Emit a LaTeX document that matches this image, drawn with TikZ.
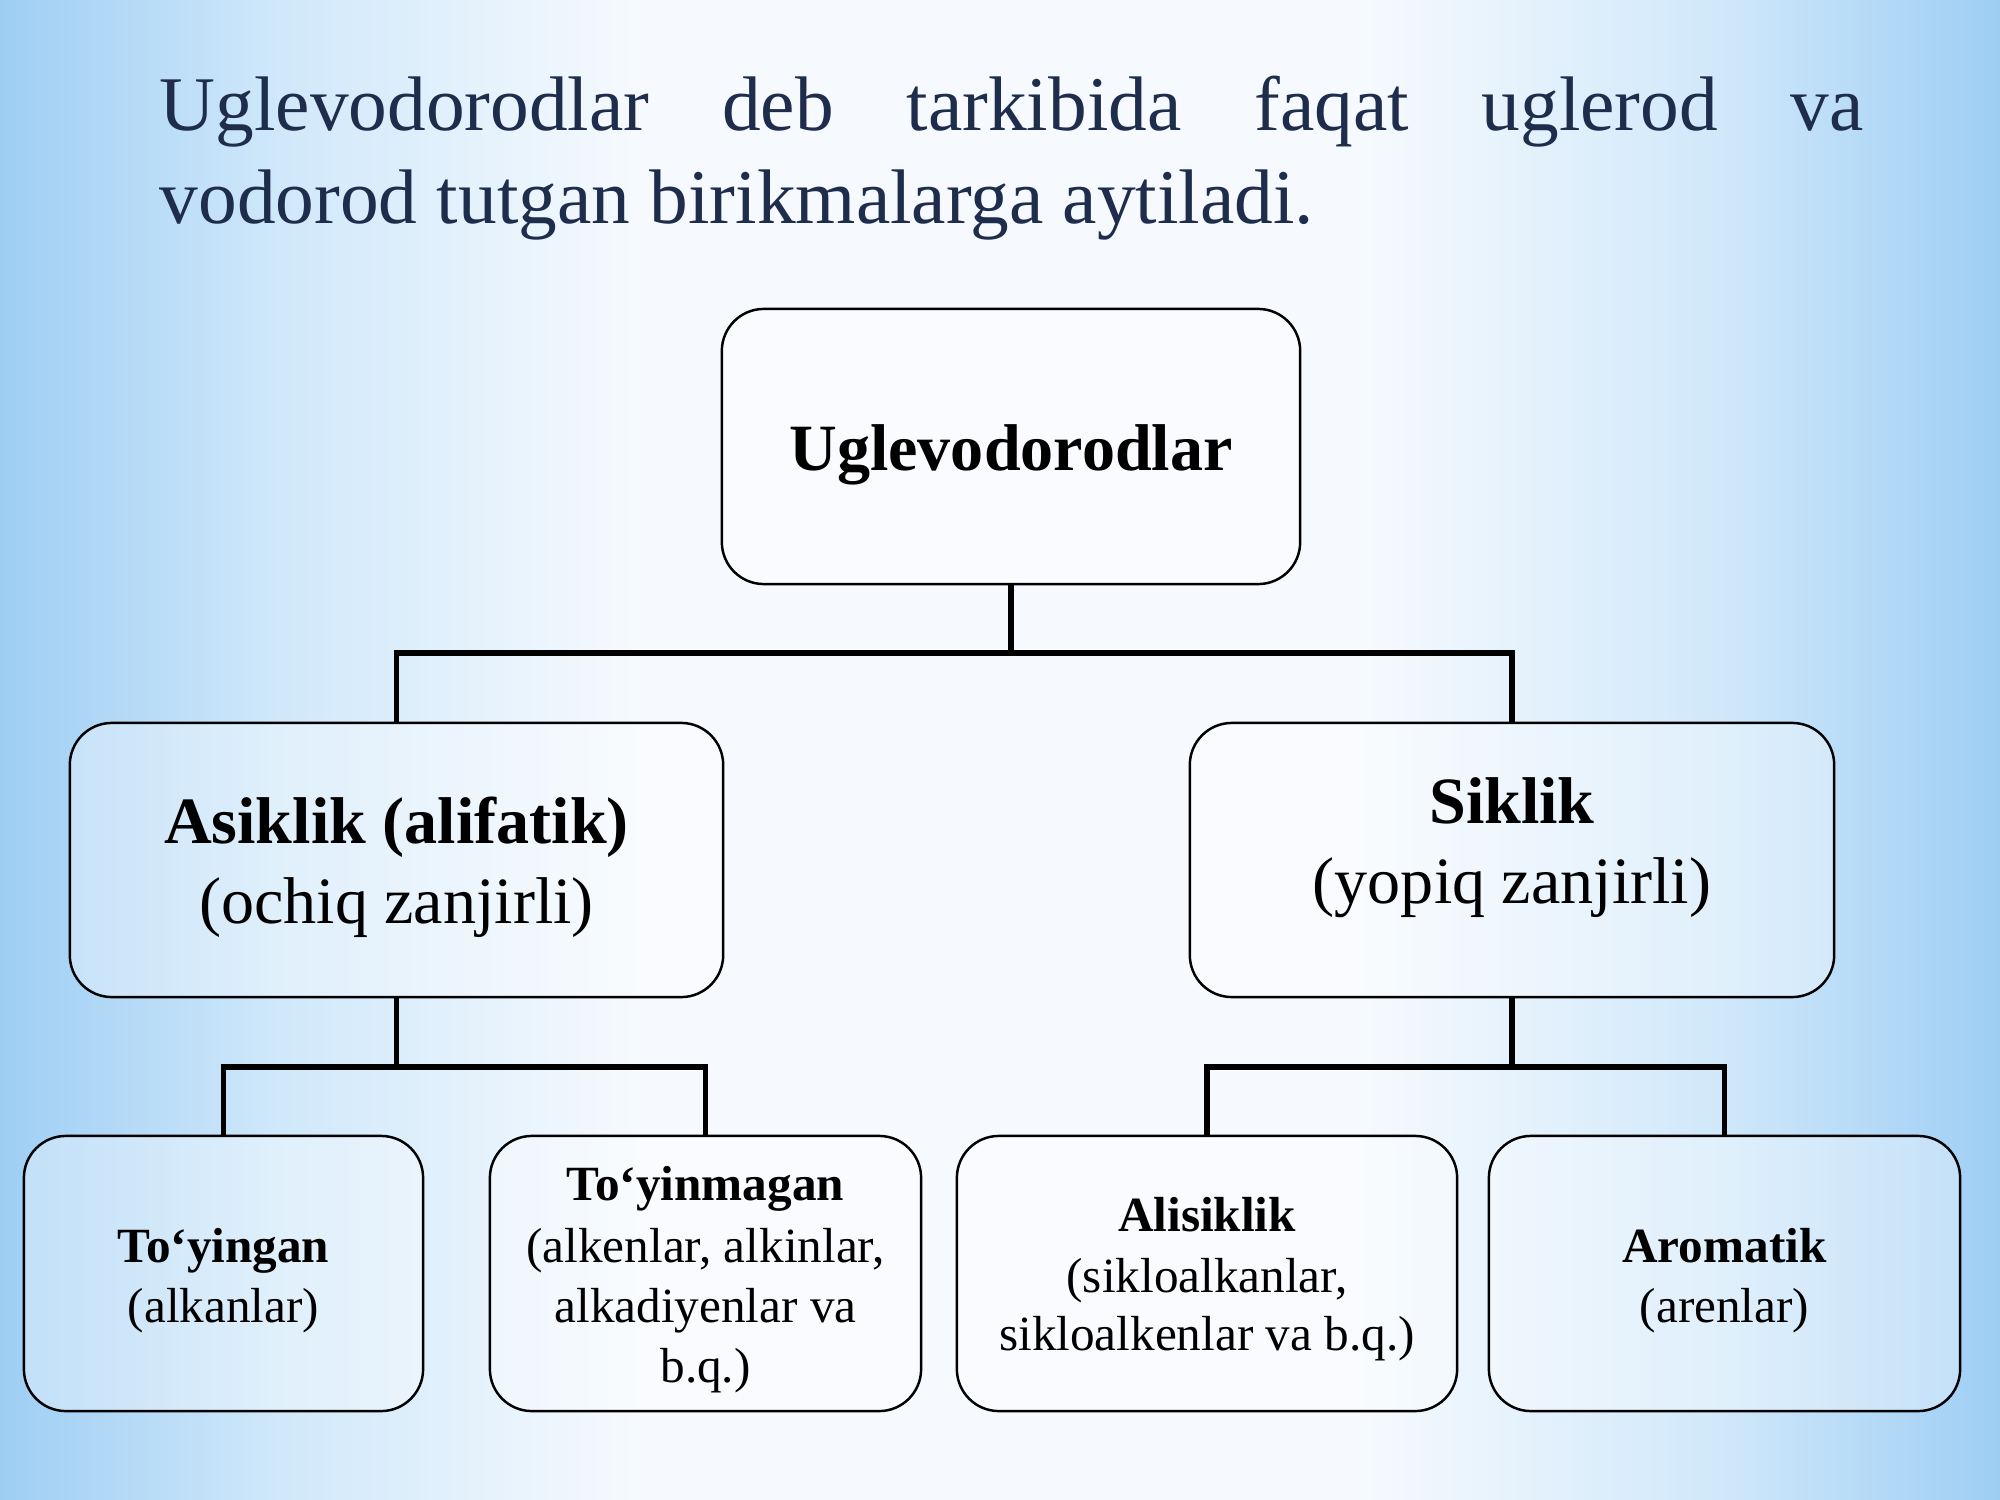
\documentclass[tikz,border=0pt]{standalone}
\usepackage{fontspec}
\setmainfont{Liberation Serif}
\definecolor{bgA}{RGB}{158,206,244}
\definecolor{bgB}{RGB}{208,232,250}
\definecolor{bgC}{RGB}{246,250,254}
\definecolor{headcol}{RGB}{31,45,77}
\pgfdeclarehorizontalshading{bgshade}{100bp}{color(0bp)=(bgA); color(25bp)=(bgA); color(32bp)=(bgB); color(41bp)=(bgC); color(59bp)=(bgC); color(68bp)=(bgB); color(75bp)=(bgA); color(100bp)=(bgA)}
\tikzset{
  box/.style={draw=black, line width=0.7pt, rounded corners=0.42cm, fill=white, fill opacity=0.35, text opacity=1, inner sep=0pt, outer sep=0pt},
  conn/.style={draw=black, line width=1.45pt, line join=miter},
  txt/.style={inner sep=0pt, anchor=base, text=black},
  bigfont/.style={font=\fontsize{18.8pt}{22.6pt}\selectfont},
  smallfont/.style={font=\fontsize{14pt}{17pt}\selectfont},
  headfont/.style={font=\fontsize{22pt}{26.4pt}\selectfont, text=headcol, inner sep=0pt, anchor=base west}
}
\begin{document}
\begin{tikzpicture}[x=0.01cm,y=-0.01cm]
\useasboundingbox (0,0) rectangle (2000,1500);
\shade[shading=bgshade] (0,0) rectangle (2000,1500);

% heading
\node[headfont] (h1) at (159,130) {\makebox[17.03cm][s]{Uglevodorodlar deb tarkibida faqat uglerod va}};
\node[headfont] (h2) at (159,223) {vodorod tutgan birikmalarga aytiladi.};

% boxes
\node[box, minimum width=5.78cm, minimum height=2.75cm] (top) at (1011,446.5) {};
\node[box, minimum width=6.53cm, minimum height=2.74cm] (asik) at (396.5,860) {};
\node[box, minimum width=6.44cm, minimum height=2.74cm] (sik) at (1512,860) {};
\node[box, minimum width=3.99cm, minimum height=2.75cm] (b1) at (223.5,1273.5) {};
\node[box, minimum width=4.31cm, minimum height=2.75cm] (b2) at (705.5,1273.5) {};
\node[box, minimum width=5.00cm, minimum height=2.75cm] (b3) at (1207,1273.5) {};
\node[box, minimum width=4.71cm, minimum height=2.75cm] (b4) at (1724.5,1273.5) {};

% connectors
\coordinate (j1) at (1011,653);
\coordinate (j2) at (396.5,1067);
\coordinate (j3) at (1512,1067);
\draw[conn] (top.south) -- (j1);
\draw[conn] (asik.north) |- (j1) -| (sik.north);
\draw[conn] (asik.south) -- (j2);
\draw[conn] (b1.north) |- (j2) -| (b2.north);
\draw[conn] (sik.south) -- (j3);
\draw[conn] (b3.north) |- (j3) -| (b4.north);

% texts
\node[txt, bigfont] (t0) at (1011,470) {\bfseries Uglevodorodlar};
\node[txt, bigfont] (t1a) at (396.5,843) {\bfseries Asiklik (alifatik)};
\node[txt, bigfont] (t1b) at (396.5,923) {(ochiq zanjirli)};
\node[txt, bigfont] (t2a) at (1512,823) {\bfseries Siklik};
\node[txt, bigfont] (t2b) at (1512,903) {(yopiq zanjirli)};

\node[txt, smallfont] (t3a) at (223.5,1262) {\bfseries To‘yingan};
\node[txt, smallfont] (t3b) at (223.5,1322) {(alkanlar)};

\node[txt, smallfont] (t4a) at (705.5,1200) {\bfseries To‘yinmagan};
\node[txt, smallfont] (t4b) at (705.5,1262) {(alkenlar, alkinlar,};
\node[txt, smallfont] (t4c) at (705.5,1322) {alkadiyenlar va};
\node[txt, smallfont] (t4d) at (705.5,1382) {b.q.)};

\node[txt, smallfont] (t5a) at (1207,1231) {\bfseries Alisiklik};
\node[txt, smallfont] (t5b) at (1207,1292) {(sikloalkanlar,};
\node[txt, smallfont] (t5c) at (1207,1350) {sikloalkenlar va b.q.)};

\node[txt, smallfont] (t6a) at (1724.5,1262) {\bfseries Aromatik};
\node[txt, smallfont] (t6b) at (1724.5,1322) {(arenlar)};
\end{tikzpicture}
\end{document}
